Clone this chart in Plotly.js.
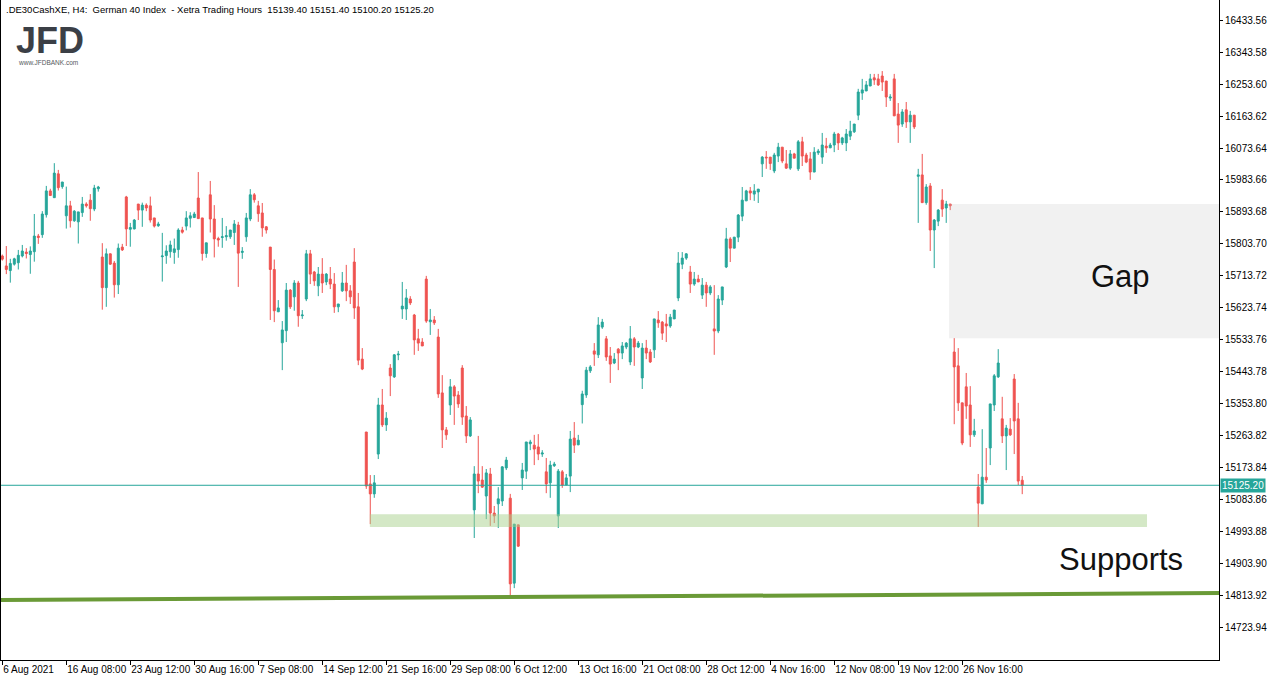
<!DOCTYPE html>
<html>
<head>
<meta charset="utf-8">
<script src="https://cdn.plot.ly/plotly-3.0.1.min.js"></script>
<style>
    html, body { margin: 0; padding: 0; background: #ffffff; }
    #chart { width: 1276px; height: 681px; }
</style>
</head>
<body>
<div id="chart"></div>
<script>
/**
 * DE30 H4 candles - support / gap sketch
 */

// H4 candles, left to right (prices)
const barOpen = [
    15770, 15742, 15729, 15747, 15751, 15770, 15781, 15774, 15782, 15826, 15830, 15886, 15953, 15934, 16001, 15965,
    15883, 15911, 15869, 15866, 15892, 15916, 15927, 15902, 15959, 15767, 15681, 15776, 15750, 15689, 15795, 15936,
    15845, 15846, 15916, 15899, 15913, 15911, 15877, 15855, 15768, 15771, 15782, 15780, 15788, 15843, 15854, 15876,
    15878, 15933, 15877, 15777, 15942, 15874, 15819, 15822, 15824, 15824, 15836, 15857, 15780, 15824, 15874, 15942,
    15911, 15891, 15852, 15795, 15732, 15613, 15526, 15560, 15674, 15655, 15694, 15602, 15649, 15776, 15725, 15686,
    15719, 15697, 15705, 15691, 15627, 15672, 15694, 15672, 15753, 15627, 15480, 15275, 15129, 15101, 15213, 15351,
    15295, 15455, 15430, 15492, 15621, 15621, 15649, 15604, 15537, 15528, 15705, 15585, 15590, 15542, 15385, 15281,
    15351, 15402, 15379, 15455, 15320, 15264, 15056, 15157, 15140, 15095, 15157, 15047, 15073, 15081, 15174, 15089,
    14850, 15014, 15146, 15165, 15242, 15238, 15233, 15213, 15163, 15132, 15180, 15039, 15163, 15126, 15151, 15258,
    15239, 15352, 15379, 15447, 15503, 15492, 15570, 15537, 15489, 15469, 15508, 15497, 15514, 15472, 15537, 15514,
    15427, 15511, 15500, 15506, 15590, 15584, 15579, 15573, 15593, 15652, 15747, 15764, 15725, 15691, 15705, 15660,
    15688, 15666, 15565, 15559, 15646, 15739, 15818, 15792, 15823, 15882, 15925, 15953, 15944, 15950, 16029, 16048,
    16048, 16009, 16051, 16076, 16029, 16017, 16057, 16015, 16091, 16054, 16043, 16006, 16060, 16048, 16079, 16074,
    16082, 16113, 16088, 16088, 16107, 16119, 16166, 16228, 16234, 16248, 16271, 16268, 16276, 16262, 16214, 16268,
    16169, 16141, 16181, 16147, 16166, 15994, 15998, 15920, 15967, 15843, 15868, 15927, 15905, 15916, 15500, 15461,
    15357, 15402, 15351, 15267, 15120, 15073, 15148, 15230, 15351, 15430, 15312, 15264, 15283, 15424, 15312, 15139.4,
];

const barHigh = [
    15774, 15798, 15762, 15765, 15787, 15801, 15792, 15797, 15888, 15832, 15896, 15967, 15959, 16031, 16012, 15978,
    15965, 15925, 15899, 15894, 15936, 15921, 15944, 15970, 15967, 15806, 15791, 15777, 15756, 15805, 15804, 15939,
    15863, 15874, 15916, 15920, 15918, 15937, 15877, 15866, 15835, 15800, 15813, 15819, 15848, 15852, 15896, 15893,
    15894, 16006, 15877, 15807, 15981, 15913, 15824, 15877, 15854, 15843, 15871, 15866, 15795, 15891, 15958, 15947,
    15925, 15919, 15854, 15795, 15760, 15646, 15587, 15694, 15677, 15702, 15700, 15618, 15787, 15787, 15728, 15739,
    15764, 15722, 15739, 15722, 15635, 15725, 15745, 15688, 15792, 15666, 15511, 15275, 15154, 15154, 15371, 15396,
    15331, 15466, 15494, 15503, 15697, 15677, 15657, 15607, 15565, 15539, 15714, 15621, 15601, 15565, 15435, 15289,
    15424, 15407, 15390, 15463, 15348, 15317, 15179, 15264, 15179, 15171, 15174, 15067, 15120, 15179, 15205, 15101,
    15016, 15014, 15188, 15247, 15253, 15267, 15269, 15224, 15202, 15194, 15191, 15171, 15168, 15157, 15278, 15303,
    15267, 15391, 15458, 15463, 15525, 15598, 15593, 15545, 15514, 15497, 15511, 15528, 15528, 15573, 15542, 15531,
    15525, 15534, 15508, 15593, 15615, 15587, 15607, 15607, 15618, 15781, 15781, 15778, 15742, 15725, 15717, 15708,
    15697, 15688, 15688, 15660, 15683, 15849, 15823, 15823, 15888, 15964, 15956, 15964, 15972, 15958, 16051, 16065,
    16048, 16060, 16088, 16076, 16068, 16068, 16060, 16096, 16105, 16060, 16062, 16076, 16071, 16116, 16102, 16088,
    16119, 16116, 16105, 16127, 16150, 16141, 16240, 16268, 16262, 16282, 16282, 16282, 16290, 16262, 16225, 16282,
    16200, 16183, 16203, 16178, 16166, 16015, 16057, 15972, 15975, 15874, 15902, 15958, 15925, 15916, 15539, 15511,
    15357, 15441, 15404, 15312, 15157, 15283, 15230, 15354, 15438, 15508, 15374, 15295, 15314, 15438, 15357, 15151.4,
];

const barLow = [
    15757, 15719, 15695, 15743, 15732, 15766, 15763, 15720, 15754, 15804, 15821, 15878, 15940, 15934, 15954, 15959,
    15847, 15850, 15866, 15805, 15880, 15906, 15869, 15896, 15951, 15619, 15627, 15745, 15653, 15663, 15784, 15798,
    15796, 15845, 15871, 15852, 15896, 15864, 15850, 15852, 15698, 15748, 15765, 15748, 15765, 15833, 15842, 15850,
    15877, 15875, 15757, 15765, 15836, 15766, 15796, 15793, 15813, 15818, 15801, 15683, 15762, 15810, 15868, 15920,
    15866, 15824, 15833, 15590, 15584, 15613, 15449, 15528, 15621, 15616, 15571, 15593, 15643, 15691, 15686, 15657,
    15666, 15688, 15677, 15610, 15612, 15669, 15643, 15635, 15593, 15463, 15449, 15115, 15016, 15090, 15199, 15289,
    15278, 15376, 15427, 15477, 15593, 15590, 15632, 15492, 15503, 15517, 15582, 15548, 15576, 15371, 15230, 15253,
    15323, 15295, 15343, 15295, 15244, 15261, 14977, 15103, 15118, 15030, 15011, 15019, 15005, 15067, 15168, 14814,
    14836, 14952, 15112, 15143, 15224, 15182, 15196, 15205, 15103, 15090, 15177, 15005, 15118, 15126, 15106, 15216,
    15238, 15299, 15371, 15441, 15461, 15483, 15565, 15475, 15413, 15466, 15449, 15480, 15508, 15463, 15461, 15511,
    15396, 15480, 15469, 15483, 15568, 15534, 15528, 15568, 15593, 15643, 15733, 15759, 15666, 15686, 15697, 15649,
    15627, 15660, 15492, 15553, 15632, 15736, 15753, 15792, 15809, 15868, 15925, 15927, 15925, 15919, 15992, 16015,
    16012, 16003, 16034, 16031, 16015, 16012, 16045, 16009, 16023, 16031, 15984, 16006, 16054, 16029, 16060, 16074,
    16062, 16068, 16082, 16065, 16096, 16116, 16152, 16209, 16234, 16248, 16251, 16248, 16234, 16189, 16206, 16164,
    16088, 16133, 16130, 16088, 16127, 15863, 15920, 15914, 15784, 15736, 15854, 15880, 15863, 15899, 15297, 15334,
    15238, 15312, 15233, 15261, 15008, 15073, 15132, 15182, 15334, 15427, 15244, 15168, 15264, 15213, 15126, 15100.2,
];

const barClose = [
    15761, 15732, 15749, 15762, 15772, 15784, 15777, 15784, 15826, 15822, 15888, 15953, 15940, 16003, 15962, 15978,
    15911, 15869, 15896, 15894, 15916, 15911, 15903, 15961, 15964, 15681, 15776, 15747, 15689, 15792, 15787, 15846,
    15850, 15871, 15899, 15913, 15905, 15871, 15854, 15860, 15770, 15784, 15801, 15790, 15843, 15837, 15877, 15883,
    15888, 15875, 15777, 15807, 15874, 15818, 15815, 15824, 15827, 15843, 15860, 15778, 15783, 15877, 15942, 15928,
    15889, 15849, 15843, 15732, 15616, 15624, 15562, 15674, 15627, 15694, 15602, 15604, 15776, 15719, 15700, 15719,
    15694, 15719, 15691, 15627, 15635, 15694, 15672, 15655, 15624, 15477, 15452, 15123, 15101, 15132, 15351, 15295,
    15314, 15433, 15492, 15494, 15629, 15652, 15638, 15534, 15525, 15517, 15587, 15590, 15582, 15382, 15281, 15267,
    15402, 15376, 15354, 15317, 15264, 15309, 15157, 15137, 15120, 15160, 15047, 15039, 15087, 15177, 15196, 14848,
    15016, 14954, 15168, 15247, 15247, 15227, 15213, 15216, 15129, 15182, 15185, 15165, 15126, 15146, 15255, 15238,
    15252, 15382, 15449, 15458, 15494, 15576, 15584, 15486, 15466, 15480, 15497, 15517, 15525, 15537, 15514, 15525,
    15511, 15497, 15472, 15593, 15582, 15553, 15573, 15598, 15618, 15750, 15764, 15776, 15691, 15705, 15697, 15688,
    15666, 15683, 15559, 15649, 15683, 15818, 15792, 15823, 15885, 15927, 15953, 15947, 15953, 15958, 16048, 16046,
    16030, 16054, 16076, 16037, 16017, 16057, 16045, 16091, 16051, 16034, 16006, 16062, 16065, 16082, 16074, 16082,
    16113, 16088, 16102, 16113, 16121, 16141, 16231, 16237, 16251, 16268, 16265, 16251, 16259, 16217, 16217, 16164,
    16138, 16175, 16147, 16166, 16133, 15998, 15920, 15964, 15843, 15871, 15899, 15902, 15916, 15911, 15458, 15357,
    15244, 15348, 15267, 15278, 15075, 15148, 15140, 15354, 15433, 15469, 15264, 15286, 15267, 15306, 15137, 15125.2,
];

// bottom time scale: one label every 16 bars
const timeTickBars = [0, 16, 32, 48, 64, 80, 96, 112, 128, 144, 160, 176, 192, 208, 224, 240];
const timeTickText = [
    '6 Aug 2021', '16 Aug 08:00', '23 Aug 12:00', '30 Aug 16:00', '7 Sep 08:00', '14 Sep 12:00',
    '21 Sep 16:00', '29 Sep 08:00', '6 Oct 12:00', '13 Oct 16:00', '21 Oct 08:00', '28 Oct 12:00',
    '4 Nov 16:00', '12 Nov 08:00', '19 Nov 12:00', '26 Nov 16:00',
];

// right price scale
const priceTicks = [
    14723.94, 14813.92, 14903.90, 14993.88, 15083.86, 15173.84, 15263.82, 15353.80, 15443.78, 15533.76,
    15623.74, 15713.72, 15803.70, 15893.68, 15983.66, 16073.64, 16163.62, 16253.60, 16343.58, 16433.56,
];

const lastPrice = 15125.20;

// drawn zones (bar index / price)
const gapZone = { x0: 236.7, x1: 304.2, y0: 15539, y1: 15916 };
const supportZone = { x0: 91.9, x1: 286.2, y0: 15008, y1: 15044 };
const supportLine = { x0: -0.6, y0: 14802.6, x1: 304.2, y1: 14822.3 };

const BULL = '#26a69a';
const BEAR = '#ef5350';
const AXIS_FONT = { family: 'Liberation Sans, Arial, sans-serif', size: 10, color: '#000000' };

function initCandles(elementId) {
    const trace = {
        type: 'candlestick',
        x: barOpen.map((_, i) => i),
        open: barOpen,
        high: barHigh,
        low: barLow,
        close: barClose,
        increasing: { line: { color: BULL, width: 1 }, fillcolor: BULL },
        decreasing: { line: { color: BEAR, width: 1 }, fillcolor: BEAR },
        whiskerwidth: 0,
        hoverinfo: 'skip',
        showlegend: false,
    };

    const shapes = [
        {
            type: 'rect', xref: 'x', yref: 'y', layer: 'above',
            x0: gapZone.x0, x1: gapZone.x1, y0: gapZone.y0, y1: gapZone.y1,
            fillcolor: 'rgba(200,200,200,0.25)', line: { width: 0 },
        },
        {
            type: 'rect', xref: 'x', yref: 'y', layer: 'above',
            x0: supportZone.x0, x1: supportZone.x1, y0: supportZone.y0, y1: supportZone.y1,
            fillcolor: 'rgba(169,209,142,0.5)', line: { width: 0 },
        },
        {
            type: 'line', xref: 'x', yref: 'y', layer: 'above',
            x0: supportLine.x0, y0: supportLine.y0, x1: supportLine.x1, y1: supportLine.y1,
            line: { color: '#6a9a37', width: 4 },
        },
        {
            type: 'line', xref: 'paper', yref: 'y', layer: 'above',
            x0: 0, x1: 1, y0: lastPrice, y1: lastPrice,
            line: { color: BULL, width: 1 },
        },
    ];

    const annotations = [
        {
            xref: 'paper', yref: 'paper', x: 0.0025, y: 0.997, xanchor: 'left', yanchor: 'top',
            text: '.DE30CashXE, H4:\u00a0 German 40 Index\u00a0 - Xetra Trading Hours\u00a0 15139.40 15151.40 15100.20 15125.20',
            showarrow: false, font: { ...AXIS_FONT, size: 9.5 },
        },
        {
            xref: 'paper', yref: 'paper', x: 0.011, y: 0.972, xanchor: 'left', yanchor: 'top',
            text: '<b>JFD</b>', showarrow: false,
            font: { family: 'Liberation Sans, Arial, sans-serif', size: 36, color: '#3b3f46' },
        },
        {
            xref: 'paper', yref: 'paper', x: 0.012, y: 0.914, xanchor: 'left', yanchor: 'top',
            text: 'www.JFDBANK.com', showarrow: false,
            font: { family: 'Liberation Sans, Arial, sans-serif', size: 6.5, color: '#555a60' },
        },
        {
            xref: 'paper', yref: 'paper', x: 0.9195, y: 0.581, xanchor: 'center', yanchor: 'middle',
            text: 'Gap', showarrow: false,
            font: { family: 'Liberation Sans, Arial, sans-serif', size: 31, color: '#111111' },
        },
        {
            xref: 'paper', yref: 'paper', x: 0.9195, y: 0.152, xanchor: 'center', yanchor: 'middle',
            text: 'Supports', showarrow: false,
            font: { family: 'Liberation Sans, Arial, sans-serif', size: 31, color: '#111111' },
        },
        {
            xref: 'paper', yref: 'y', x: 1, y: lastPrice, xanchor: 'left', yanchor: 'middle', xshift: 1,
            text: lastPrice.toFixed(2), showarrow: false,
            bgcolor: BULL, borderpad: 1,
            font: { ...AXIS_FONT, color: '#ffffff' },
        },
    ];

    const layout = {
        width: 1276,
        height: 681,
        paper_bgcolor: '#ffffff',
        plot_bgcolor: '#ffffff',
        margin: { l: 1, r: 57, t: 0, b: 21 },
        showlegend: false,
        xaxis: {
            type: 'linear',
            range: [-0.325, 304.2],
            rangeslider: { visible: false },
            showgrid: false,
            zeroline: false,
            showline: true, linecolor: '#000000', linewidth: 1,
            ticks: 'outside', ticklen: 4, tickcolor: '#000000',
            tickvals: timeTickBars, ticktext: timeTickText,
            ticklabelposition: 'outside right',
            tickangle: 0,
            tickfont: AXIS_FONT,
            fixedrange: true,
        },
        yaxis: {
            side: 'right',
            range: [14633.9, 16489.8],
            showgrid: false,
            zeroline: false,
            showline: true, linecolor: '#000000', linewidth: 1, mirror: true,
            ticks: 'outside', ticklen: 3, tickcolor: '#000000',
            tickvals: priceTicks, ticktext: priceTicks.map(v => v.toFixed(2)),
            tickfont: AXIS_FONT,
            fixedrange: true,
        },
        shapes: shapes,
        annotations: annotations,
    };

    Plotly.newPlot(elementId, [trace], layout, { displayModeBar: false, staticPlot: true });
}

initCandles('chart');
</script>
</body>
</html>
